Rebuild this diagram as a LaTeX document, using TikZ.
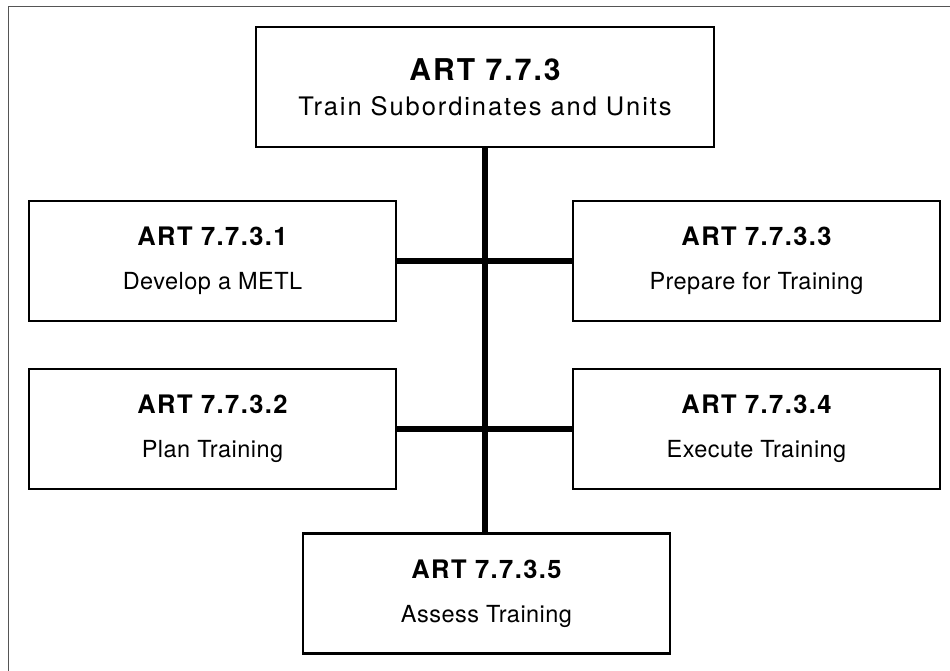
\documentclass[tikz,border=0pt]{standalone}
\usepackage{fontspec}
\setmainfont{TeX Gyre Heros}
\usetikzlibrary{positioning}
\definecolor{artframe}{HTML}{555555}
\tikzset{
  box/.style={draw=black,line width=2.3pt,fill=white,align=center,inner sep=0pt,
    minimum width=367pt,minimum height=120pt,font=\fontsize{23.5}{44}\selectfont},
  topbox/.style={box,minimum width=458pt,font=\fontsize{25.5}{35}\selectfont},
  link/.style={draw=black,line width=5.5pt},
}
\newcommand{\arttitle}[1]{{\fontsize{25.5}{44}\selectfont\bfseries\addfontfeature{LetterSpace=5.5}#1}}
\newcommand{\arttask}[1]{{\addfontfeature{LetterSpace=2}#1}}

\begin{document}
\begin{tikzpicture}[x=1pt,y=-1pt]
  \useasboundingbox (0,0) rectangle (950,671);
  % frame
  \draw[artframe,line width=1.5pt] (8.5,671) -- (8.5,6.5) -- (950,6.5);
  % boxes
  \node[topbox] (art) at (485,87) {{\fontsize{30}{35}\selectfont\bfseries\addfontfeature{LetterSpace=7}ART 7.7.3}\\
    {\addfontfeature{LetterSpace=7.5}Train Subordinates and Units}};
  \node[box] (metl) at (212.5,261) {\arttitle{ART 7.7.3.1}\\\arttask{Develop a METL}};
  \node[box] (prep) at (756.5,261) {\arttitle{ART 7.7.3.3}\\\arttask{Prepare for Training}};
  \node[box] (plan) at (212.5,429) {\arttitle{ART 7.7.3.2}\\\arttask{Plan Training}};
  \node[box] (exec) at (756.5,429) {\arttitle{ART 7.7.3.4}\\\arttask{Execute Training}};
  \node[box] (assess) at (486.5,593.5) {\arttitle{ART 7.7.3.5}\\\arttask{Assess Training}};
  % connectors
  \draw[link] (art.south) -- (art.south |- assess.north);
  \draw[link] (metl.east) -- (prep.west);
  \draw[link] (plan.east) -- (exec.west);
\end{tikzpicture}
\end{document}
